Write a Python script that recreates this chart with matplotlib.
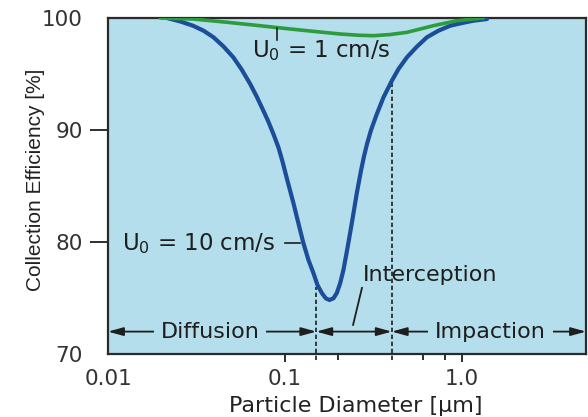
import matplotlib
matplotlib.use('Agg')
import matplotlib.pyplot as plt
from matplotlib.ticker import FixedLocator, NullFormatter

plt.rcParams['font.family'] = ['DejaVu Sans']
plt.rcParams['mathtext.fontset'] = 'dejavusans'

# U0 = 10 cm/s curve
d_fast = [0.0215, 0.0255, 0.0302, 0.0346, 0.0394, 0.0448, 0.0510, 0.0569,
          0.0635, 0.0692, 0.0754, 0.0805, 0.0859, 0.0917, 0.0970, 0.1022,
          0.1114, 0.1189, 0.1268, 0.1355, 0.1445, 0.1523, 0.1611, 0.1697,
          0.1779, 0.1875, 0.1959, 0.2045, 0.2134, 0.2231, 0.2328, 0.2432,
          0.2541, 0.2676, 0.2780, 0.2900, 0.3050, 0.3296, 0.3594, 0.4007,
          0.4369, 0.4873, 0.5546, 0.6322, 0.7349, 0.8555, 0.9954, 1.159, 1.38]
eff_fast = [100.0, 99.70, 99.31, 98.87, 98.28, 97.47, 96.49, 95.39,
            94.11, 92.97, 91.72, 90.74, 89.64, 88.45, 87.10, 85.70,
            83.48, 81.67, 79.91, 78.39, 77.23, 76.16, 75.45, 74.97,
            74.82, 74.97, 75.45, 76.31, 77.50, 79.14, 80.80, 82.56,
            84.38, 86.28, 87.55, 88.75, 89.95, 91.43, 92.92, 94.40,
            95.45, 96.49, 97.44, 98.28, 98.87, 99.31, 99.55, 99.76, 99.91]

# U0 = 1 cm/s curve
d_slow = [0.0197, 0.0302, 0.0469, 0.0722, 0.1067, 0.151, 0.2045, 0.2600,
          0.3153, 0.3900, 0.4873, 0.686, 0.933, 1.314]
eff_slow = [100.0, 99.91, 99.62, 99.31, 99.02, 98.78, 98.57, 98.46,
            98.42, 98.52, 98.72, 99.31, 99.76, 100.0]

x_major = [0.01, 0.1, 1.0]
x_major_labels = ['0.01', '0.1', '1.0']
x_minor = [0.2, 0.6, 0.8]
y_ticks = [70, 80, 90, 100]

# mechanism regions along the bottom
regime_edges = [0.01, 0.15, 0.4, 5.0]
regime_names = ['Diffusion', 'Interception', 'Impaction']

bg = '#b4deeb'
dark = '#1e1e1e'

fig = plt.figure(figsize=(5.88, 4.17), dpi=100)
ax = fig.add_axes([108 / 588, 63 / 417, 478 / 588, 336 / 417])
ax.set_facecolor(bg)
ax.set_xscale('log')
ax.set_xlim(regime_edges[0], regime_edges[-1])
ax.set_ylim(70, 100)

ax.plot(d_fast, eff_fast, color='#1b4d98', lw=3.0, solid_capstyle='round',
        solid_joinstyle='round', zorder=4)
ax.plot(d_slow, eff_slow, color='#2c9c3c', lw=2.6, solid_capstyle='round',
        solid_joinstyle='round', zorder=5)

# boundaries between regimes
dash = (0, (2.6, 1.6))
ax.plot([0.15, 0.15], [69.5, 76.0], color=dark, lw=1.2, ls=dash, clip_on=False, zorder=3)
ax.plot([0.4, 0.4], [69.5, 94.3], color=dark, lw=1.2, ls=dash, clip_on=False, zorder=3)

arrow_y = 72.0
for i in range(3):
    ax.annotate('', xy=(regime_edges[i + 1], arrow_y), xytext=(regime_edges[i], arrow_y),
                arrowprops=dict(arrowstyle='<|-|>,head_length=0.65,head_width=0.18',
                                color=dark, lw=1.3, mutation_scale=14,
                                shrinkA=0, shrinkB=0), zorder=6)

box = dict(facecolor=bg, edgecolor='none', pad=5)
ax.text(0.0377, arrow_y, regime_names[0], ha='center', va='center', fontsize=16,
        color=dark, bbox=box, zorder=7)
ax.text(1.44, arrow_y, regime_names[2], ha='center', va='center', fontsize=16,
        color=dark, bbox=box, zorder=7)
ax.text(0.276, 77.05, regime_names[1], ha='left', va='center', fontsize=16, color=dark)
ax.plot([0.2716, 0.242], [75.9, 72.6], color=dark, lw=1.3)

# curve labels
ax.text(0.0651, 97.05, 'U$_0$ = 1 cm/s', ha='left', va='center', fontsize=16.5, color=dark)
ax.plot([0.0902, 0.0902], [99.1, 98.0], color=dark, lw=1.2, zorder=6)
ax.text(0.0120, 79.9, 'U$_0$ = 10 cm/s', ha='left', va='center', fontsize=16.5, color=dark)
ax.plot([0.1, 0.1216], [79.9, 79.9], color=dark, lw=1.2)

ax.xaxis.set_major_locator(FixedLocator(x_major))
ax.set_xticklabels(x_major_labels)
ax.xaxis.set_minor_locator(FixedLocator(x_minor))
ax.xaxis.set_minor_formatter(NullFormatter())
ax.set_yticks(y_ticks)

ax.tick_params(axis='x', which='major', length=6, width=1.3, pad=5, labelsize=15.5,
               color=dark, labelcolor='#333333')
ax.tick_params(axis='x', which='minor', length=4.5, width=1.3, color=dark)
ax.tick_params(axis='y', which='major', length=13, width=1.3, pad=5, labelsize=15.5,
               color=dark, labelcolor='#333333')
ax.yaxis.get_major_ticks()[0].tick1line.set_visible(False)
ax.yaxis.get_major_ticks()[-1].tick1line.set_visible(False)
ax.xaxis.get_major_ticks()[0].tick1line.set_visible(False)

for s in ax.spines.values():
    s.set_color('#2a2a2a')
    s.set_linewidth(1.6)

ax.set_xlabel('Particle Diameter [\u00b5m]', fontsize=16, color='#222222')
ax.xaxis.set_label_coords(0.519, -0.125)
ax.set_ylabel('Collection Efficiency [%]', fontsize=15, color='#222222',
              family='Liberation Sans')
ax.yaxis.set_label_coords(-0.132, 0.518)

fig.savefig('out.png', dpi=100, facecolor='white')
